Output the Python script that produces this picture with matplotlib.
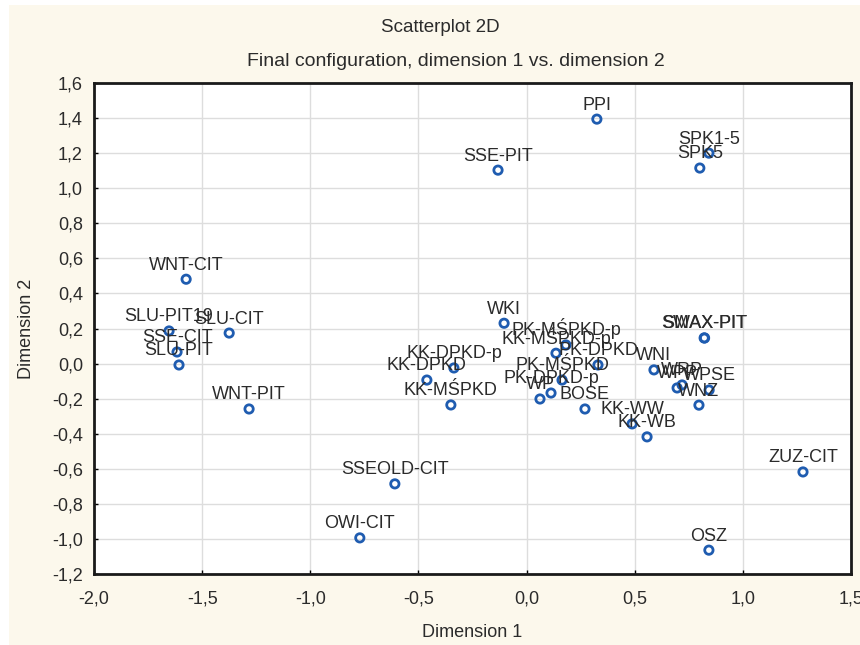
import matplotlib
matplotlib.use("Agg")
from matplotlib import pyplot as plt
from matplotlib.patches import Rectangle
from matplotlib.ticker import FuncFormatter

# point labels and MDS coordinates (dimension 1, dimension 2)
labels = ["PPI", "SSE-PIT", "SPK1-5", "SPK5", "WNT-CIT", "SLU-PIT19", "SLU-CIT",
          "SSE-CIT", "SLU-PIT", "WNT-PIT", "WKI", "KK-DPKD-p", "KK-DPKD",
          "KK-MŚPKD", "PK-MŚPKD-p", "KK-MŚPKD-p", "PK-DPKD", "PK-MŚPKD",
          "PK-DPKD-p", "WP", "BOSE", "SMAX-PIT", "SWAX-PIT", "WNI", "WRP", "WPP",
          "WPSE", "WNZ", "KK-WW", "KK-WB", "ZUZ-CIT", "SSEOLD-CIT", "OWI-CIT", "OSZ"]
dim1 = [0.325, -0.132, 0.843, 0.801, -1.574, -1.653, -1.375,
        -1.616, -1.607, -1.283, -0.104, -0.336, -0.461,
        -0.350, 0.182, 0.136, 0.330, 0.164,
        0.113, 0.062, 0.270, 0.821, 0.823, 0.589, 0.719, 0.696,
        0.844, 0.797, 0.488, 0.557, 1.278, -0.609, -0.771, 0.843]
dim2 = [1.394, 1.103, 1.200, 1.115, 0.481, 0.186, 0.174,
        0.066, -0.008, -0.259, 0.230, -0.025, -0.094,
        -0.236, 0.106, 0.059, -0.008, -0.094,
        -0.168, -0.202, -0.259, 0.146, 0.146, -0.036, -0.122, -0.139,
        -0.151, -0.237, -0.344, -0.418, -0.618, -0.686, -0.994, -1.064]

x_ticks = [-2.0, -1.5, -1.0, -0.5, 0.0, 0.5, 1.0, 1.5]
y_ticks = [-1.2, -1.0, -0.8, -0.6, -0.4, -0.2, 0.0, 0.2, 0.4, 0.6, 0.8, 1.0, 1.2, 1.4, 1.6]

plt.rcParams["font.family"] = ["Liberation Sans", "DejaVu Sans"]

fig = plt.figure(figsize=(8.6, 6.45), dpi=100, facecolor="white")
# cream panel behind everything
fig.patches.append(Rectangle((9 / 860, 0), 1, 1 - 5 / 645, transform=fig.transFigure,
                             facecolor="#fcf8ec", edgecolor="none", zorder=-1))

ax = fig.add_axes([94 / 860, 71 / 645, 757 / 860, 491 / 645])
ax.set_facecolor("white")

ax.scatter(dim1, dim2, s=36, facecolors="none", edgecolors="#1f5cb0",
           linewidths=2, zorder=3)
for lab, x, y in zip(labels, dim1, dim2):
    ax.annotate(lab, (x, y), xytext=(0, 4), textcoords="offset points",
                ha="center", va="bottom", fontsize=13, color="#2b2b2b", zorder=4)

ax.set_xlim(-2.0, 1.5)
ax.set_ylim(-1.2, 1.6)
ax.set_xticks(x_ticks)
ax.set_yticks(y_ticks)
fmt = FuncFormatter(lambda v, p: f"{v:.1f}".replace(".", ",").replace("-0,0", "0,0"))
ax.xaxis.set_major_formatter(fmt)
ax.yaxis.set_major_formatter(fmt)
ax.tick_params(direction="in", length=3, width=1, labelsize=13,
               labelcolor="#2b2b2b", pad=8)
ax.tick_params(axis="x", pad=12)
ax.grid(True, color="#dddddd", linewidth=1)
ax.set_axisbelow(True)
for side in ["left", "bottom", "top", "right"]:
    ax.spines[side].set_linewidth(2)
    ax.spines[side].set_color("#1a1a1a")

ax.set_xlabel("Dimension 1", fontsize=13, color="#2b2b2b", labelpad=12)
ax.set_ylabel("Dimension 2", fontsize=13, color="#2b2b2b", labelpad=12)

fig.text(440 / 860, 1 - 27 / 645, "Scatterplot 2D", ha="center", va="center",
         fontsize=13.5, color="#2b2b2b")
fig.text(456 / 860, 1 - 62 / 645, "Final configuration, dimension 1 vs. dimension 2",
         ha="center", va="center", fontsize=14, color="#2b2b2b")

fig.savefig("out.png", dpi=100, facecolor=fig.get_facecolor())
